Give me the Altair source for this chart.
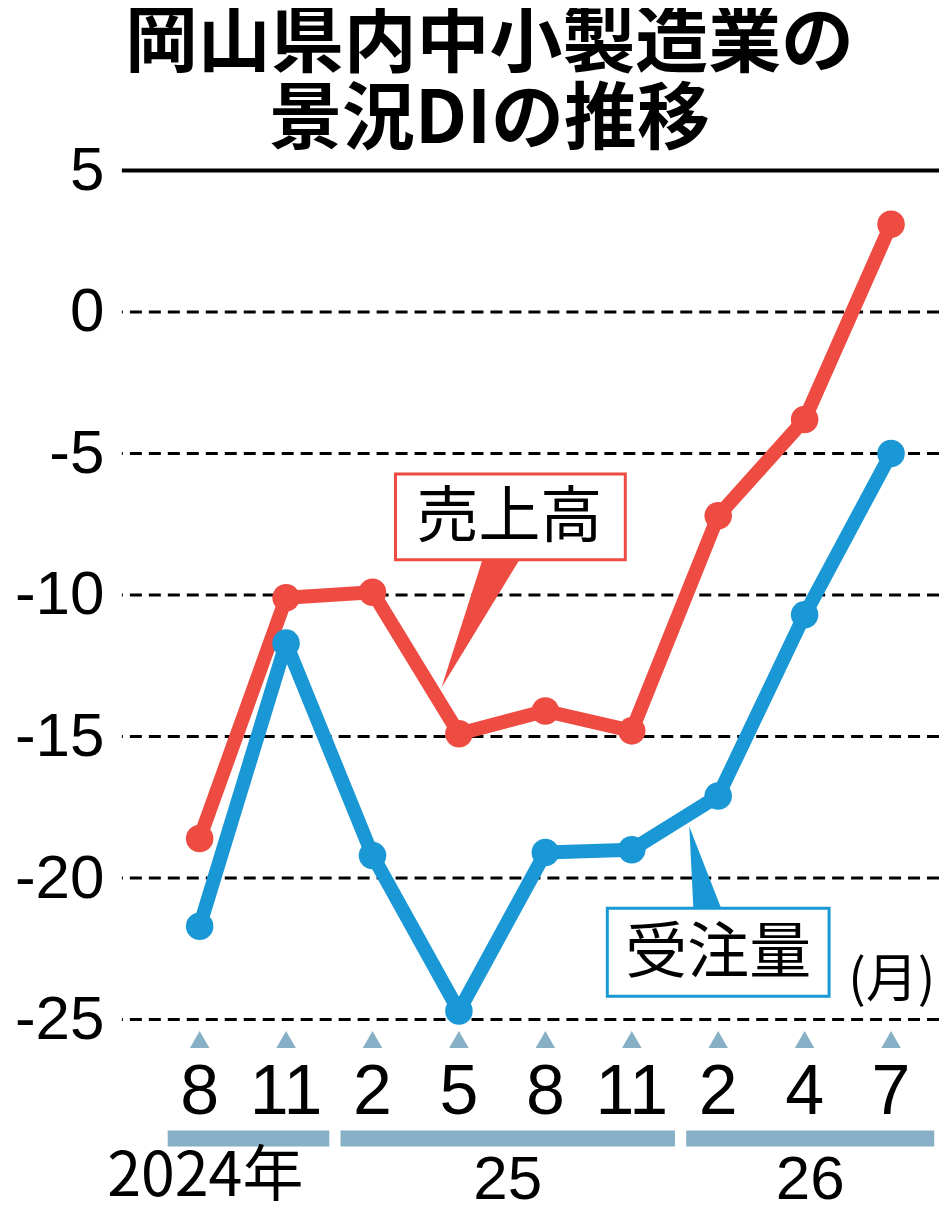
import altair as alt
import pandas as pd

# 岡山県内中小製造業の景況DI (売上高 / 受注量)
months = ["8", "11", "2", "5", "8", "11", "2", "4", "7"]
sales = [-18.6, -10.1, -9.9, -14.9, -14.1, -14.8, -7.2, -3.8, 3.1]
orders = [-21.7, -11.7, -19.2, -24.7, -19.1, -19.0, -17.1, -10.7, -5.0]
years = ["2024年", "25", "26"]
year_first = [0, 2, 6]
year_last = [1, 5, 8]
y_ticks = [5, 0, -5, -10, -15, -20, -25]

RED = "#ee4b42"
BLUE = "#1a97d5"
STEEL = "#87afc6"
JP = "Noto Sans CJK JP"
NUM = "Liberation Sans"

W, H = 818, 850

idx = list(range(len(months)))
df = pd.DataFrame({
    "i": idx * 2,
    "value": sales + orders,
    "series": ["売上高"] * len(idx) + ["受注量"] * len(idx),
})
df_month = pd.DataFrame({"i": idx, "month": months})
df_year = pd.DataFrame({"year": years, "first": year_first, "last": year_last})
df_grid = pd.DataFrame({"v": [t for t in y_ticks if t != 5]})

x_scale = alt.Scale(domain=[-0.9, 8.555], nice=False, zero=False)
y_scale = alt.Scale(domain=[-25, 5], nice=False, zero=False)
color = alt.Color("series:N", legend=None,
                  scale=alt.Scale(domain=["売上高", "受注量"], range=[RED, BLUE]))

grid = alt.Chart(df_grid).mark_rule(color="black", strokeWidth=3, strokeDash=[12, 7]).encode(
    y=alt.Y("v:Q", scale=y_scale,
            axis=alt.Axis(values=y_ticks, labelExpr="toString(datum.value)",
                          labelFontSize=62, labelFont=NUM, labelColor="black",
                          domain=False, ticks=False, grid=False, labelPadding=18, title=None))
)
top_line = alt.Chart(pd.DataFrame({"v": [5]})).mark_rule(color="black", strokeWidth=4).encode(
    y=alt.Y("v:Q", scale=y_scale)
)

base = alt.Chart(df).encode(
    x=alt.X("i:Q", scale=x_scale, axis=None),
    y=alt.Y("value:Q", scale=y_scale),
    color=color,
)
lines = base.mark_line(strokeWidth=14, strokeJoin="round")
dots = base.mark_circle(size=760, opacity=1)

# callouts
sales_ptr = alt.Chart(pd.DataFrame({"a": [0]})).mark_point(
    shape="M0.03,-1L0.61,-1L-0.61,1Z", filled=True, size=16384, color=RED, opacity=1, strokeWidth=0
).encode(x=alt.datum(3.25), y=alt.datum(-11.01))
orders_ptr = alt.Chart(pd.DataFrame({"a": [0]})).mark_point(
    shape="M-0.38,-1L0.4,1L-0.28,1Z", filled=True, size=7056, color=BLUE, opacity=1, strokeWidth=0
).encode(x=alt.datum(5.85), y=alt.datum(-19.66))

sales_box = alt.Chart(pd.DataFrame({"a": [0]})).mark_rect(fill="white", stroke=RED, strokeWidth=3).encode(
    x=alt.datum(2.266), x2=alt.datum(4.925), y=alt.datum(-5.72), y2=alt.datum(-8.75)
)
orders_box = alt.Chart(pd.DataFrame({"a": [0]})).mark_rect(fill="white", stroke=BLUE, strokeWidth=3).encode(
    x=alt.datum(4.717), x2=alt.datum(7.283), y=alt.datum(-21.07), y2=alt.datum(-24.18)
)
sales_txt = alt.Chart(pd.DataFrame({"t": ["売上高"]})).mark_text(
    font=JP, fontSize=62, color="black", baseline="middle"
).encode(x=alt.datum(3.584), y=alt.datum(-7.27), text="t:N")
orders_txt = alt.Chart(pd.DataFrame({"t": ["受注量"]})).mark_text(
    font=JP, fontSize=62, color="black", baseline="middle"
).encode(x=alt.datum(6.0), y=alt.datum(-22.7), text="t:N")
unit_txt = alt.Chart(pd.DataFrame({"t": ["(月)"]})).mark_text(
    font=JP, fontSize=52, color="black", baseline="middle"
).encode(x=alt.datum(8.01), y=alt.datum(-23.65), text="t:N")

# bottom: ticks, months, year bars
tri = alt.Chart(df_month).mark_point(shape="triangle-up", filled=True, size=380, color=STEEL, opacity=1).encode(
    x=alt.X("i:Q", scale=x_scale), y=alt.value(H + 20)
)
month_txt = alt.Chart(df_month).mark_text(font=NUM, fontSize=70, color="black", baseline="middle").encode(
    x=alt.X("i:Q", scale=x_scale), y=alt.value(H + 74), text="month:N"
)
year_base = alt.Chart(df_year).transform_calculate(
    x0="datum.first - 0.37", x1="datum.last + 0.5", xm="(datum.first - 0.37 + datum.last + 0.5) / 2"
)
year_bar = year_base.mark_rule(color=STEEL, strokeWidth=16, strokeCap="butt").encode(
    x=alt.X("x0:Q", scale=x_scale), x2="x1:Q", y=alt.value(H + 119)
)
year_txt = year_base.transform_filter("datum.first > 0").mark_text(
    font=NUM, fontSize=62, color="black", baseline="middle"
).encode(x=alt.X("xm:Q", scale=x_scale), y=alt.value(H + 161), text="year:N")
year_first_txt = year_base.transform_filter("datum.first == 0").mark_text(
    font=JP, fontSize=61, color="black", baseline="middle", align="right", dx=-26
).encode(x=alt.X("x1:Q", scale=x_scale), y=alt.value(H + 159), text="year:N")

title = alt.Chart(pd.DataFrame({"t": ["岡山県内中小製造業の\n景況DIの推移"]})).mark_text(
    font=JP, fontSize=73, fontWeight="bold", color="black", baseline="middle",
    lineBreak="\n", lineHeight=77,
).encode(x=alt.value(368), y=alt.value(-127), text="t:N")

chart = alt.layer(
    grid, top_line, lines, dots, sales_ptr, orders_ptr, sales_box, orders_box,
    sales_txt, orders_txt, unit_txt, tri, month_txt, year_bar, year_txt, year_first_txt,
    title,
).properties(
    width=W, height=H,
    padding={"left": 114, "top": 162, "right": 0, "bottom": 192},
    autosize=alt.AutoSizeParams(type="none"),
).configure_view(stroke=None)

chart.save("out.html", embed_options={"renderer": "svg", "actions": False})
